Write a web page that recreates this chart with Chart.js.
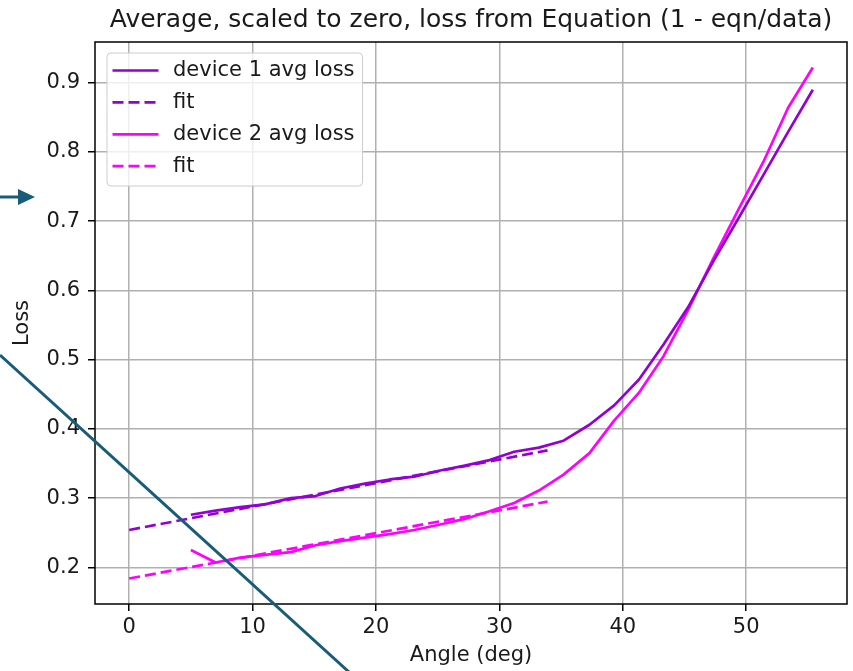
<!DOCTYPE html>
<html>
<head>
<meta charset="utf-8">
<script src="https://cdn.jsdelivr.net/npm/chart.js@4.4.1/dist/chart.umd.min.js"></script>
<style>
  html, body { margin: 0; padding: 0; background: #fff; }
  #wrap { position: relative; width: 853px; height: 671px; }
  #c { position: absolute; left: 0; top: 0; }
  #ov { position: absolute; left: 0; top: 0; pointer-events: none; }
</style>
</head>
<body>
<div id="wrap">
  <canvas id="c" width="853" height="671"></canvas>
  <svg id="ov" width="853" height="671" viewBox="0 0 853 671">
    <line x1="0" y1="355" x2="349" y2="672" stroke="#185c78" stroke-width="3"/>
    <line x1="0" y1="197" x2="20" y2="197" stroke="#185c78" stroke-width="3"/>
    <polygon points="18,189 35,197 18,205" fill="#185c78"/>
  </svg>
</div>
<script>
// ---- data ----
const titleText = 'Average, scaled to zero, loss from Equation (1 - eqn/data)';
const xTitle = 'Angle (deg)';
const yTitle = 'Loss';

const angles = [5.0, 7.0, 9.0, 11.0, 13.1, 15.1, 17.1, 19.1, 21.1, 23.1, 25.2, 27.2, 29.2,
                31.2, 33.2, 35.2, 37.3, 39.3, 41.3, 43.3, 45.3, 47.3, 49.4, 51.4, 53.4, 55.4];
const device1Loss = [0.276, 0.282, 0.287, 0.291, 0.300, 0.303, 0.314, 0.321, 0.327, 0.331, 0.340, 0.347, 0.355,
                     0.367, 0.373, 0.383, 0.406, 0.434, 0.471, 0.522, 0.576, 0.641, 0.705, 0.767, 0.829, 0.890];
const device2Loss = [0.225, 0.207, 0.214, 0.218, 0.222, 0.232, 0.238, 0.243, 0.248, 0.254, 0.262, 0.270, 0.281,
                     0.293, 0.311, 0.334, 0.365, 0.412, 0.452, 0.505, 0.572, 0.645, 0.718, 0.786, 0.864, 0.922];
const fitAngles = [0, 33.9];
const device1Fit = [0.254, 0.369];
const device2Fit = [0.184, 0.295];

const seriesLabels = ['device 1 avg loss', 'fit', 'device 2 avg loss', 'fit'];
const xTicks = [0, 10, 20, 30, 40, 50];
const yTicks = [0.2, 0.3, 0.4, 0.5, 0.6, 0.7, 0.8, 0.9];

// ---- styling ----
const PURPLE = '#9400d3';
const MAGENTA = '#ff00ff';
const FONT = "'DejaVu Sans', sans-serif";
const TEXT = '#1a1a1a';
const DASH = [11, 5];

const pts = (xs, ys) => xs.map((x, i) => ({ x: x, y: ys[i] }));

// x/y limits with 5% margins like the reference axes
const allX = angles.concat(fitAngles);
const allY = device1Loss.concat(device2Loss, device1Fit, device2Fit);
const xMinD = Math.min(...allX), xMaxD = Math.max(...allX);
const yMinD = Math.min(...allY), yMaxD = Math.max(...allY);
const xm = (xMaxD - xMinD) * 0.05, ym = (yMaxD - yMinD) * 0.05;

Chart.defaults.font.family = FONT;
Chart.defaults.color = TEXT;

const framePlugin = {
  id: 'frameAndLegend',
  afterDatasetsDraw(chart) {
    const { ctx, chartArea: a } = chart;
    ctx.save();
    // axes frame (all four spines)
    ctx.strokeStyle = '#000';
    ctx.lineWidth = 1.5;
    ctx.setLineDash([]);
    ctx.strokeRect(a.left, a.top, a.right - a.left, a.bottom - a.top);

    // legend in upper-left corner of axes
    const ds = chart.data.datasets;
    ctx.font = '21px ' + FONT;
    let maxW = 0;
    ds.forEach(d => { maxW = Math.max(maxW, ctx.measureText(d.label).width); });
    const fx = a.left + 12, fy = a.top + 11;
    const textX = a.left + 78;
    const fw = textX + maxW + 8 - fx, fh = 133;
    const r = 4;
    ctx.beginPath();
    ctx.moveTo(fx + r, fy);
    ctx.lineTo(fx + fw - r, fy);
    ctx.quadraticCurveTo(fx + fw, fy, fx + fw, fy + r);
    ctx.lineTo(fx + fw, fy + fh - r);
    ctx.quadraticCurveTo(fx + fw, fy + fh, fx + fw - r, fy + fh);
    ctx.lineTo(fx + r, fy + fh);
    ctx.quadraticCurveTo(fx, fy + fh, fx, fy + fh - r);
    ctx.lineTo(fx, fy + r);
    ctx.quadraticCurveTo(fx, fy, fx + r, fy);
    ctx.closePath();
    ctx.fillStyle = 'rgba(255,255,255,0.8)';
    ctx.fill();
    ctx.strokeStyle = '#cccccc';
    ctx.lineWidth = 1;
    ctx.stroke();

    ds.forEach((d, i) => {
      const cy = a.top + 28.5 + 31.9 * i;
      ctx.beginPath();
      ctx.strokeStyle = d.borderColor;
      ctx.lineWidth = d.borderWidth;
      ctx.setLineDash(d.borderDash || []);
      ctx.moveTo(a.left + 17.5, cy);
      ctx.lineTo(a.left + 63.5, cy);
      ctx.stroke();
      ctx.setLineDash([]);
      ctx.fillStyle = TEXT;
      ctx.textAlign = 'left';
      ctx.textBaseline = 'middle';
      ctx.fillText(d.label, textX, cy);
    });
    ctx.restore();
  }
};

new Chart(document.getElementById('c'), {
  type: 'line',
  data: {
    datasets: [
      { label: seriesLabels[0], data: pts(angles, device1Loss), borderColor: PURPLE, borderWidth: 2.7 },
      { label: seriesLabels[1], data: pts(fitAngles, device1Fit), borderColor: PURPLE, borderWidth: 2.7, borderDash: DASH },
      { label: seriesLabels[2], data: pts(angles, device2Loss), borderColor: MAGENTA, borderWidth: 2.7 },
      { label: seriesLabels[3], data: pts(fitAngles, device2Fit), borderColor: MAGENTA, borderWidth: 2.7, borderDash: DASH }
    ]
  },
  options: {
    responsive: false,
    animation: false,
    events: [],
    elements: {
      point: { radius: 0, hoverRadius: 0 },
      line: { tension: 0, fill: false, borderCapStyle: 'butt', borderJoinStyle: 'round' }
    },
    layout: { padding: { left: 0, right: 6, top: 0, bottom: 0 } },
    plugins: {
      legend: { display: false },
      tooltip: { enabled: false },
      title: {
        display: true,
        text: titleText,
        fullSize: false,
        color: TEXT,
        font: { size: 25, weight: 'normal', family: FONT, lineHeight: 1.2 },
        padding: { top: 5, bottom: 7 }
      }
    },
    scales: {
      x: {
        type: 'linear',
        min: xMinD - xm,
        max: xMaxD + xm,
        afterBuildTicks: s => { s.ticks = xTicks.map(v => ({ value: v })); },
        afterFit: s => { s.height = 67; },
        ticks: { font: { size: 21, family: FONT }, color: TEXT, padding: 4, maxRotation: 0,
                 callback: v => String(v) },
        grid: { color: '#b0b0b0', lineWidth: 1.5, drawTicks: true, tickLength: 7, tickColor: '#000', tickWidth: 1.5 },
        border: { display: false },
        title: { display: true, text: xTitle, color: TEXT, font: { size: 21, family: FONT }, padding: { top: 0, bottom: 2.5 } }
      },
      y: {
        type: 'linear',
        min: yMinD - ym,
        max: yMaxD + ym,
        afterBuildTicks: s => { s.ticks = yTicks.map(v => ({ value: v })); },
        afterFit: s => { s.width = 95; },
        ticks: { font: { size: 21, family: FONT }, color: TEXT, padding: 8,
                 callback: v => Number(v).toFixed(1) },
        grid: { color: '#b0b0b0', lineWidth: 1.5, drawTicks: true, tickLength: 7, tickColor: '#000', tickWidth: 1.5 },
        border: { display: false },
        title: { display: true, text: yTitle, color: TEXT, font: { size: 21, family: FONT }, padding: { top: 10, bottom: 0 } }
      }
    }
  },
  plugins: [framePlugin]
});
</script>
</body>
</html>
